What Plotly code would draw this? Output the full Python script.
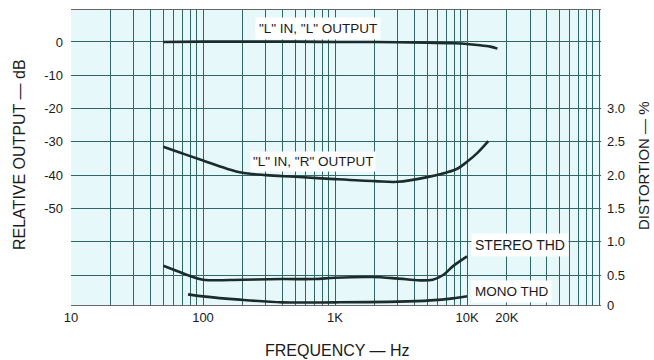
import plotly.graph_objects as go

# ---- data ----
ll_freq = [50, 100, 200, 500, 1000, 2000, 5000, 8000, 10000, 12000, 15000, 17000]
ll_db = [0.0, 0.1, 0.1, 0.1, 0.0, 0.0, -0.2, -0.4, -0.6, -0.9, -1.4, -2.0]

lr_freq = [50, 70, 100, 150, 200, 300, 500, 1000, 2000, 3000, 5000, 7000, 8500, 10000, 12000, 14500]
lr_db = [-31.5, -33.5, -35.6, -38.0, -39.3, -40.0, -40.5, -41.2, -41.8, -42.0, -40.6, -39.2, -38.0, -36.0, -33.3, -29.8]

st_freq = [50, 60, 76, 100, 200, 400, 700, 1000, 1900, 2900, 4400, 5500, 6600, 7800, 10000]
st_thd = [0.64, 0.58, 0.50, 0.43, 0.43, 0.44, 0.44, 0.46, 0.47, 0.45, 0.42, 0.43, 0.50, 0.63, 0.78]

mono_freq = [77, 100, 190, 400, 1000, 3000, 5300, 7800, 10000]
mono_thd = [0.21, 0.18, 0.13, 0.09, 0.09, 0.10, 0.12, 0.15, 0.18]

x_grid = [m * 10 ** e for e in range(1, 5) for m in range(1, 10)] + [100000]
x_labels = {10: "10", 100: "100", 1000: "1K", 10000: "10K", 20000: "20K"}
y_grid = [0, -10, -20, -30, -40, -50, -60, -70]
y_labels = {0: "0", -10: "-10", -20: "-20", -30: "-30", -40: "-40", -50: "-50"}
d_vals = [0.05, 0.5, 1.0, 1.5, 2.0, 2.5, 3.0]
d_text = ["0", "0.5", "1.0", "1.5", "2.0", "2.5", "3.0"]

DB_MIN, DB_MAX = -79.0, 9.6

curve = dict(color="#1c2b2b", width=2.6)
grid_c = "#2f6767"
font = "Liberation Sans"

fig = go.Figure()
fig.add_trace(go.Scatter(x=ll_freq, y=ll_db, mode="lines", line=dict(shape="spline", **curve)))
fig.add_trace(go.Scatter(x=lr_freq, y=lr_db, mode="lines", line=dict(shape="spline", **curve)))
fig.add_trace(go.Scatter(x=st_freq, y=st_thd, mode="lines", yaxis="y2", line=dict(shape="spline", **curve)))
fig.add_trace(go.Scatter(x=mono_freq, y=mono_thd, mode="lines", yaxis="y2", line=dict(shape="spline", **curve)))

fig.update_layout(
    width=654, height=360,
    margin=dict(l=71, r=53, t=10, b=55, autoexpand=False),
    paper_bgcolor="white", plot_bgcolor="#e6f8f9",
    showlegend=False,
    font=dict(family=font, size=13, color="#1a1a1a"),
    xaxis=dict(
        type="log", range=[1, 5.015], automargin=False,
        tickvals=x_grid, ticktext=[x_labels.get(v, "") for v in x_grid],
        showgrid=True, gridcolor=grid_c, gridwidth=1.2,
        showline=True, linecolor="#666", linewidth=1.2, mirror=True,
        ticks="", zeroline=False, tickfont=dict(size=13),
    ),
    yaxis=dict(
        range=[DB_MIN, DB_MAX], automargin=False,
        tickvals=y_grid, ticktext=[y_labels.get(v, "") for v in y_grid],
        showgrid=True, gridcolor=grid_c, gridwidth=1.2,
        zeroline=False, ticks="", ticklabelstandoff=7, tickfont=dict(size=13),
    ),
    yaxis2=dict(
        overlaying="y", side="right", automargin=False,
        range=[(DB_MIN + 80) / 20, (DB_MAX + 80) / 20],
        tickvals=d_vals, ticktext=d_text,
        showgrid=False, zeroline=False, ticks="", ticklabelstandoff=5,
        tickfont=dict(size=13),
    ),
)

ann_font = dict(family=font, size=13.5, color="#1a1a1a")
fig.add_annotation(x=2.87, y=4.1, xref="x", yref="y", text='"L" IN, "L" OUTPUT',
                   showarrow=False, bgcolor="white", borderpad=3, font=ann_font)
fig.add_annotation(x=2.83, y=-36.0, xref="x", yref="y", text='"L" IN, "R" OUTPUT',
                   showarrow=False, bgcolor="white", borderpad=2, font=ann_font)
fig.add_annotation(x=4.03, y=0.95, xref="x", yref="y2", text="STEREO THD", xanchor="left",
                   showarrow=False, bgcolor="white", borderpad=3, font=dict(family=font, size=14, color="#1a1a1a"))
fig.add_annotation(x=4.03, y=0.26, xref="x", yref="y2", text="MONO THD", xanchor="left",
                   showarrow=False, bgcolor="white", borderpad=3, font=ann_font)

title_font = dict(family=font, size=16, color="#1a1a1a")
fig.add_annotation(x=19, y=155, text="RELATIVE OUTPUT — dB",
                   textangle=-90, showarrow=False, font=title_font)
fig.add_annotation(x=337, y=350, text="FREQUENCY — Hz", showarrow=False, font=title_font)
fig.add_annotation(x=643, y=166, text="DISTORTION — %", textangle=-90, showarrow=False,
                   font=dict(family=font, size=15, color="#1a1a1a"))

# convert pixel-placed titles to paper coordinates (centered)
pw, ph = 654 - 71 - 53, 360 - 10 - 55
for a in fig.layout.annotations[4:]:
    px, py = a.x, a.y
    a.xref, a.yref = "paper", "paper"
    a.xanchor, a.yanchor = "center", "middle"
    a.x = (px - 71) / pw
    a.y = (360 - 55 - py) / ph

fig.write_html(
    "out.html",
    config={"displayModeBar": False},
    post_script="document.body.style.margin='0';document.body.style.overflow='hidden';",
)
